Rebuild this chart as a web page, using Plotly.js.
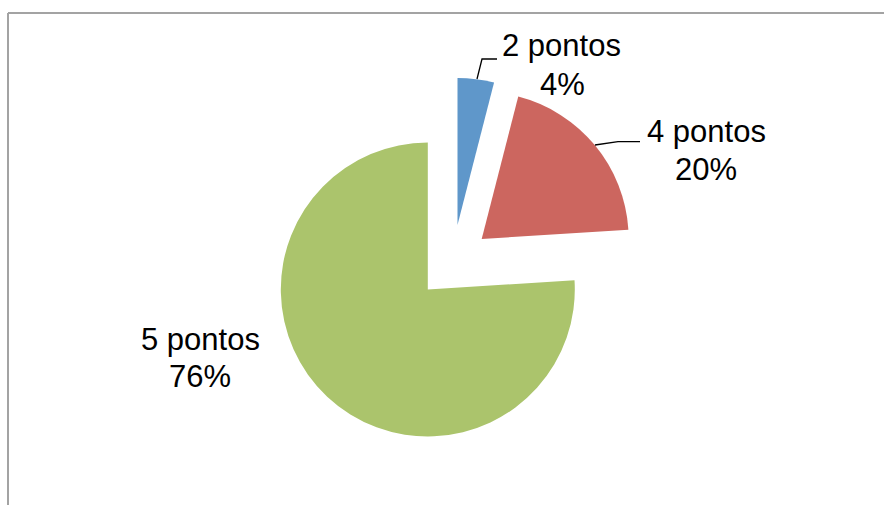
<!DOCTYPE html>
<html>
<head>
<meta charset="utf-8">
<script src="https://cdn.plot.ly/plotly-3.0.1.min.js"></script>
<style>html,body{margin:0;padding:0;background:#fff;overflow:hidden}#chart{width:884px;height:505px}</style>
</head>
<body>
<div id="chart"></div>
<script>
// ---- data ----
var categories = ["2 pontos", "4 pontos", "5 pontos"];
var values = [4, 20, 76];
var sliceColors = ["#5F97CA", "#CC665F", "#ABC46C"];

// ---- layout helpers (pixel -> paper) ----
var W = 884, H = 505;
function px(x) { return x / W; }
function py(y) { return 1 - y / H; }

// exploded slice centres (pixels) and radius
var R = 147;
var centres = [[457.5, 225], [481.7, 239], [427.8, 289.5]];

var total = values.reduce(function (a, b) { return a + b; }, 0);

var traces = categories.map(function (c, i) {
  var cx = centres[i][0], cy = centres[i][1];
  return {
    type: "pie",
    labels: categories,
    values: values,
    sort: false,
    direction: "clockwise",
    rotation: 0,
    textinfo: "none",
    hoverinfo: "label+percent",
    showlegend: false,
    marker: {
      colors: sliceColors.map(function (col, j) { return j === i ? col : "rgba(0,0,0,0)"; }),
      line: { width: 0 }
    },
    domain: { x: [px(cx - R), px(cx + R)], y: [py(cy + R), py(cy - R)] }
  };
});

// label placement (pixels): [name line centre, percent line centre]
var labelPos = [
  [[561.7, 45.5], [562, 84]],
  [[706.7, 131.5], [706, 169]],
  [[200, 339.5], [200, 376]]
];
var font = { family: "Liberation Sans, Arial, sans-serif", size: 31, color: "#000" };
var annotations = [];
categories.forEach(function (c, i) {
  var pct = Math.round(values[i] / total * 100) + "%";
  annotations.push({ xref: "paper", yref: "paper", x: px(labelPos[i][0][0]), y: py(labelPos[i][0][1]),
    text: c, showarrow: false, xanchor: "center", yanchor: "middle", font: font });
  annotations.push({ xref: "paper", yref: "paper", x: px(labelPos[i][1][0]), y: py(labelPos[i][1][1]),
    text: pct, showarrow: false, xanchor: "center", yanchor: "middle", font: font });
});

function pathPx(pts) {
  return pts.map(function (p, k) { return (k ? "L" : "M") + px(p[0]) + "," + py(p[1]); }).join(" ");
}

var shapes = [
  // chart frame (top and left visible)
  { type: "line", xref: "paper", yref: "paper", x0: px(8), y0: py(13), x1: 1, y1: py(13), line: { color: "#A3A3A3", width: 2 } },
  { type: "line", xref: "paper", yref: "paper", x0: px(8), y0: py(13), x1: px(8), y1: 0, line: { color: "#A3A3A3", width: 2 } },
  // leader lines
  { type: "path", xref: "paper", yref: "paper", path: pathPx([[477, 79], [482, 59], [497, 59]]), line: { color: "#000", width: 1.3 } },
  { type: "path", xref: "paper", yref: "paper", path: pathPx([[595, 145], [618, 141.7], [640, 141.7]]), line: { color: "#000", width: 1.3 } }
];

var layout = {
  width: W, height: H,
  margin: { l: 0, r: 0, t: 0, b: 0 },
  paper_bgcolor: "#ffffff",
  showlegend: false,
  annotations: annotations,
  shapes: shapes
};

Plotly.newPlot("chart", traces, layout, { displayModeBar: false, staticPlot: false });
</script>
</body>
</html>
